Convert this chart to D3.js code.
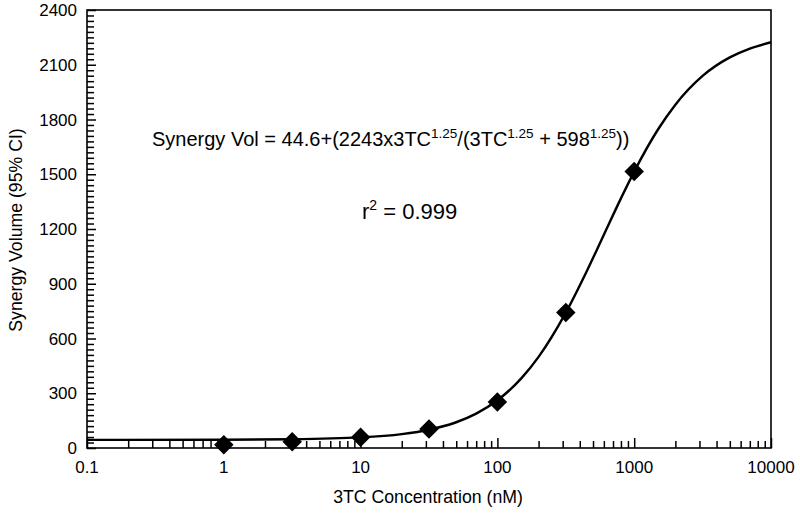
<!DOCTYPE html>
<html><head><meta charset="utf-8">
<script src="https://cdn.jsdelivr.net/npm/d3@7"></script>
<style>body{margin:0;background:#fff}svg{display:block}text{font-family:Arial,"Liberation Sans",sans-serif;fill:#000}</style>
</head><body>
<svg id="c" width="800" height="519"></svg>
<script>
// Measured data points (3TC concentration nM, synergy volume)
const pointX = [1, 3.162, 10, 31.62, 100, 316.2, 1000];
const pointY = [18, 34, 59, 104, 252, 742, 1515];
// Fitted curve, values
const curveX = [0.1, 1, 3.162, 10, 20, 31.62, 50, 70, 100, 150, 200, 316.2, 450, 598, 800, 1000, 1500, 2000, 3162, 5000, 7000, 10000];
const curveY = [44.6, 45.4, 47.8, 58.0, 76.2, 100.1, 141.1, 188.3, 261.3, 382.7, 499.4, 741.8, 968.8, 1166.1, 1367.9, 1514.6, 1748.0, 1881.4, 2038.9, 2140.2, 2188.7, 2223.2];
const xTickLabels = ["0.1", "1", "10", "100", "1000", "10000"];
const yTickLabels = ["0", "300", "600", "900", "1200", "1500", "1800", "2100", "2400"];

const svg = d3.select("#c");
const L = 87, R = 771, T = 10, B = 448;
const x = d3.scaleLog().domain([0.1, 10000]).range([L, R]);
const y = d3.scaleLinear().domain([0, 2400]).range([B, T]);

// frame
svg.append("rect").attr("x", L).attr("y", T).attr("width", R - L).attr("height", B - T)
  .attr("fill", "none").attr("stroke", "#000").attr("stroke-width", 1.6);

// x ticks (inward)
const xMajor = xTickLabels.map(Number);
const xMinor = [];
for (let d = 0; d < xMajor.length - 1; d++) for (let k = 2; k <= 9; k++) xMinor.push(xMajor[d] * k);
const xAxisMajor = d3.axisBottom(x).tickValues(xMajor).tickSize(-10).tickFormat("");
const xAxisMinor = d3.axisBottom(x).tickValues(xMinor).tickSize(-7).tickFormat("");
[xAxisMinor, xAxisMajor].forEach(a => {
  const g = svg.append("g").attr("transform", `translate(0,${B})`).call(a);
  g.select(".domain").remove();
  g.selectAll("line").attr("stroke", "#000").attr("stroke-width", 1.5);
});
svg.append("g").selectAll("text").data(xTickLabels).join("text")
  .attr("x", d => x(+d)).attr("y", 473).attr("text-anchor", "middle")
  .attr("font-size", 17).text(d => d);

// y ticks (inward)
const yMajor = yTickLabels.map(Number);
const yMinor = d3.range(0, 2401, 30).filter(v => v % 300 !== 0);
const yAxisMajor = d3.axisLeft(y).tickValues(yMajor).tickSize(-9).tickFormat("");
const yAxisMinor = d3.axisLeft(y).tickValues(yMinor).tickSize(-7).tickFormat("");
[yAxisMinor, yAxisMajor].forEach(a => {
  const g = svg.append("g").attr("transform", `translate(${L},0)`).call(a);
  g.select(".domain").remove();
  g.selectAll("line").attr("stroke", "#000").attr("stroke-width", 1.5);
});
svg.append("g").selectAll("text").data(yTickLabels).join("text")
  .attr("x", 77).attr("y", d => y(+d) + 6).attr("text-anchor", "end")
  .attr("font-size", 17).text(d => d);

// curve
const line = d3.line().x(d => x(d[0])).y(d => y(d[1])).curve(d3.curveMonotoneX);
svg.append("path").datum(curveX.map((v, i) => [v, curveY[i]]))
  .attr("d", line).attr("fill", "none").attr("stroke", "#000").attr("stroke-width", 2.4);

// points
svg.append("g").selectAll("path").data(pointX.map((v, i) => [v, pointY[i]])).join("path")
  .attr("transform", d => `translate(${x(d[0])},${y(d[1])}) rotate(45)`)
  .attr("d", d3.symbol().type(d3.symbolSquare).size(190)).attr("fill", "#000");

// annotations
const eq = svg.append("text").attr("x", 152).attr("y", 146).attr("font-size", 20);
eq.append("tspan").text("Synergy Vol = 44.6+(2243x3TC");
eq.append("tspan").attr("font-size", 13.5).attr("dy", -8).text("1.25");
eq.append("tspan").attr("dy", 8).text("/(3TC");
eq.append("tspan").attr("font-size", 13.5).attr("dy", -8).text("1.25");
eq.append("tspan").attr("dy", 8).text(" + 598");
eq.append("tspan").attr("font-size", 13.5).attr("dy", -8).text("1.25");
eq.append("tspan").attr("dy", 8).text("))");

const r2 = svg.append("text").attr("x", 362).attr("y", 219).attr("font-size", 22);
r2.append("tspan").text("r");
r2.append("tspan").attr("font-size", 14).attr("dy", -9).text("2");
r2.append("tspan").attr("dy", 9).text(" = 0.999");

// axis titles
svg.append("text").attr("x", 428).attr("y", 503).attr("text-anchor", "middle")
  .attr("font-size", 17.7).text("3TC Concentration (nM)");
svg.append("text").attr("transform", "translate(22,230) rotate(-90)").attr("text-anchor", "middle")
  .attr("font-size", 17.7).text("Synergy Volume (95% CI)");
</script>
</body></html>
